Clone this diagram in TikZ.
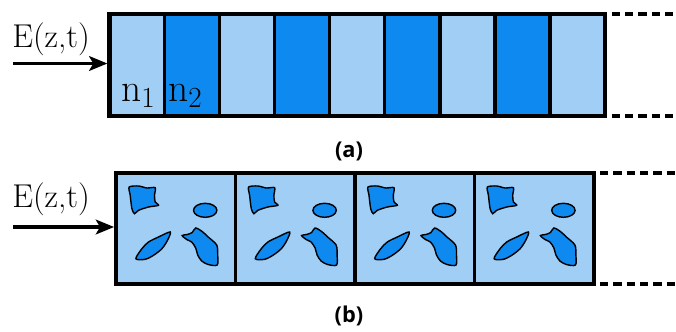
\documentclass[tikz,border=0pt]{standalone}
\usepackage{fontspec}
\setsansfont{Open Sans}
\usetikzlibrary{arrows.meta, fit}

\definecolor{layerLight}{RGB}{161,206,245}
\definecolor{layerDark}{RGB}{14,137,240}

\begin{document}
\begin{tikzpicture}[
    x=0.025cm, y=-0.025cm,
    >={Stealth[length=13pt, width=10.5pt, inset=3pt]},
    frame/.style={draw, line width=3pt, inner sep=0pt},
    divider/.style={line width=2.4pt},
    extension/.style={line width=3pt, dash pattern=on 5.9pt off 3.6pt},
    incident/.style={->, line width=2.2pt},
    field/.style={font=\fontsize{23.5}{28}\selectfont, inner sep=0pt, anchor=base west},
    index/.style={font=\fontsize{28}{33}\selectfont, inner sep=0pt, anchor=base west},
    caption/.style={font=\sffamily\bfseries\fontsize{15.5}{18}\selectfont},
    grain/.style={fill=layerDark, draw=black, line width=1pt}
]
\useasboundingbox (0,0) rectangle (676,331);

% --- (a) periodic stack of two refractive indices ---
\fill[layerLight] (109.5,14) rectangle (605,116);
\foreach \i in {1,3,5,7}
    \fill[layerDark] ({109.5+55.056*\i},14) rectangle ({109.5+55.056*(\i+1)},116);
\foreach \i in {1,...,8}
    \draw[divider] ({109.5+55.056*\i},14) -- ++(0,102);
\path (109.5,14) coordinate (aNW) (605,116) coordinate (aSE);
\node[frame, fit=(aNW)(aSE)] (slabA) {};

% open end of the stack
\draw[extension] (611.5,14) -- (676,14);
\draw[extension] (611.5,116) -- (676,116);

% incident field
\coordinate (srcA) at (13,63.5);
\draw[incident] (srcA) -- (srcA -| slabA.west);
\node[field] (fieldA) at (12,47) {E(z,t)};

\node[index] (idxOne) at (121,101) {$\mathrm{n}_1$};
\node[index] (idxTwo) at (168,101) {$\mathrm{n}_2$};

\node[caption] (capA) at (349,151) {(a)};

% --- (b) random medium repeated in unit cells ---
\fill[layerLight] (116.2,172.8) rectangle (593.7,283.8);
\foreach \k in {0,...,3} {
    \begin{scope}[shift={({116.2+119.4*\k},173)}]
        % inclusions
        \draw[grain] plot[smooth cycle, tension=0.45] coordinates {
            (13,14) (22.3,13) (30.7,15) (39,14.7) (38.3,22.3) (39,29)
            (42.3,32.3) (32.3,34) (22.3,37.3) (18.3,40.7) (15.7,35.7) (14,22.3)};
        \draw[grain] (89,37.3) ellipse [x radius=11.7, y radius=7];
        \draw[grain] plot[smooth cycle, tension=0.5] coordinates {
            (19.7,85.7) (25.7,75.7) (32.3,69) (42.3,64) (54,59)
            (51.3,67.3) (45.7,75.7) (37.3,82.3) (29,86.3)};
        \draw[grain] plot[smooth cycle, tension=0.5] coordinates {
            (66,62.5) (71,61.5) (76,59.5) (79.5,55) (86,58.5) (92,64)
            (100.5,72) (101.5,82) (101,92) (92,91.5) (85.5,88)
            (81.5,82) (79.5,75) (75.5,69) (70.5,66.5)};
    \end{scope}
}
\foreach \k in {1,2,3}
    \draw[divider] ({116.2+119.4*\k},172.8) -- ({116.2+119.4*\k},283.8);
\path (116.2,172.8) coordinate (bNW) (593.7,283.8) coordinate (bSE);
\node[frame, fit=(bNW)(bSE)] (slabB) {};

\draw[extension] (600,172.8) -- (676,172.8);
\draw[extension] (600,283.8) -- (676,283.8);

\coordinate (srcB) at (13,227);
\draw[incident] (srcB) -- (srcB -| slabB.west);
\node[field] (fieldB) at (12,207) {E(z,t)};

\node[caption] (capB) at (349,316) {(b)};

\end{tikzpicture}
\end{document}
